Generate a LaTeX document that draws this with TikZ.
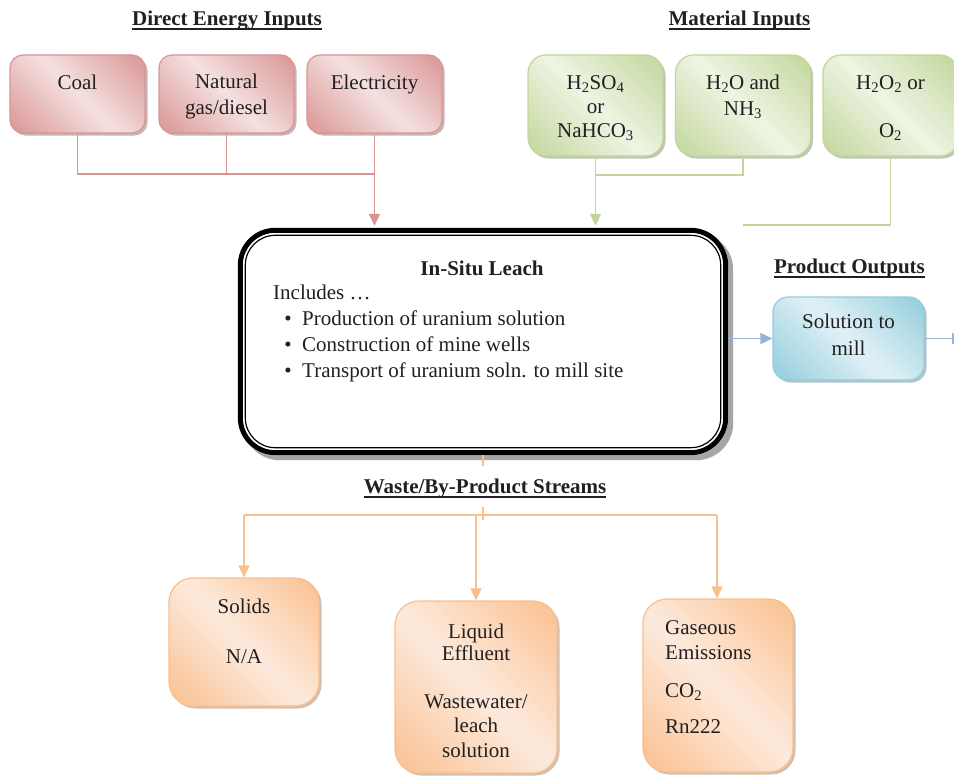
\documentclass[tikz,border=0pt]{standalone}
\usepackage{fontspec}
\setmainfont{Liberation Serif}
\usetikzlibrary{arrows.meta}

\definecolor{txtc}{HTML}{231F20}
\definecolor{redD}{HTML}{D99594}
\definecolor{redL}{HTML}{F4E0E0}
\definecolor{grnD}{HTML}{C2D69B}
\definecolor{grnL}{HTML}{EEF4E3}
\definecolor{bluD}{HTML}{92CDDC}
\definecolor{bluL}{HTML}{E0F1F6}
\definecolor{bluA}{HTML}{95B3D7}
\definecolor{orgD}{HTML}{FABF8F}
\definecolor{orgL}{HTML}{FDEADC}

\newcommand\bodyfont{\fontsize{21}{26}\selectfont}
% underlined heading text with a firm rule
\newsavebox\ulinebox
\newcommand\ulinetext[1]{\sbox\ulinebox{#1}\rlap{\usebox\ulinebox}\rule[-4.6pt]{\wd\ulinebox}{1.7pt}}

% rounded box with a diagonal two-tone gradient and a soft shadow
% #1 name, #2 cx, #3 cy, #4 width, #5 height, #6 corner radius, #7 palette
\newcommand\gradbox[7]{%
  \fill[#7D!60!black, opacity=.45, rounded corners=#6]
    (#2-#4/2+2.5,#3-#5/2+2.5) rectangle (#2+#4/2+2.5,#3+#5/2+2.5);
  \begin{scope}
    \clip[rounded corners=#6] (#2-#4/2,#3-#5/2) rectangle (#2+#4/2,#3+#5/2);
    \pgfmathsetmacro\gS{(#4+#5)/2}
    \pgfmathsetmacro\gT{#4+#5}
    \foreach \k in {0,...,39}{
      \pgfmathsetmacro\sa{-\gS+2*\gS*\k/40}
      \pgfmathsetmacro\sb{\sa+2*\gS/40+1}
      \pgfmathtruncatemacro\pc{100*abs((\k+0.5)/20-1)}
      \fill[#7D!\pc!#7L]
        ({#2+(\sa-\gT)/2},{#3+(-\gT-\sa)/2}) --
        ({#2+(\sb-\gT)/2},{#3+(-\gT-\sb)/2}) --
        ({#2+(\sb+\gT)/2},{#3+(\gT-\sb)/2}) --
        ({#2+(\sa+\gT)/2},{#3+(\gT-\sa)/2}) -- cycle;
    }
  \end{scope}
  \node[draw=#7D, line width=1.2pt, rounded corners=#6, inner sep=0pt,
    minimum width=#4pt, minimum height=#5pt] (#1) at (#2,#3) {};
}

\begin{document}
\begin{tikzpicture}[x=1pt,y=-1pt,
  txt/.style={inner sep=0pt, text height=12.5pt, text depth=0pt,
    font=\bodyfont, text=txtc},
  ttl/.style={txt, font=\bodyfont\bfseries},
  conn/.style={draw=#1, line width=1.8pt},
  arr/.style={-{Triangle[length=12pt,width=11pt]}},
]
\useasboundingbox (0,0) rectangle (954,776);

% ---------- section titles ----------
\node[ttl] (t-energy) at (227,19) {\ulinetext{Direct Energy Inputs}};
\node[ttl] (t-mat) at (739.5,19) {\ulinetext{Material Inputs}};
\node[ttl] (t-prod) at (849.5,267) {\ulinetext{Product Outputs}};
\node[ttl] (t-waste) at (485,487) {\ulinetext{Waste/By-Product Streams}};

% ---------- energy inputs ----------
\gradbox{coal}{77.5}{94}{135}{78}{13pt}{red}
\gradbox{nat}{226.5}{94}{135}{78}{13pt}{red}
\gradbox{elec}{374.5}{94}{135}{78}{13pt}{red}
\node[txt] (coal-t) at (77.5,83) {Coal};
\node[txt] (nat-t1) at (226.5,82) {Natural};
\node[txt] (nat-t2) at (226.5,108) {gas/diesel};
\node[txt] (elec-t) at (374.5,83) {Electricity};

% ---------- material inputs ----------
\gradbox{acid}{595.5}{105.5}{135}{101}{18pt}{grn}
\gradbox{water}{743}{105.5}{135}{101}{18pt}{grn}
\gradbox{oxid}{890.5}{105.5}{135}{101}{18pt}{grn}
\node[txt] (acid-t1) at (595.5,83) {H\textsubscript{2}SO\textsubscript{4}};
\node[txt] (acid-t2) at (595.5,107) {or};
\node[txt] (acid-t3) at (595.5,131.5) {NaHCO\textsubscript{3}};
\node[txt] (water-t1) at (743,83) {H\textsubscript{2}O and};
\node[txt] (water-t2) at (743,109) {NH\textsubscript{3}};
\node[txt] (oxid-t1) at (890.5,83) {H\textsubscript{2}O\textsubscript{2} or};
\node[txt] (oxid-t2) at (890.5,131) {O\textsubscript{2}};

% ---------- central process ----------
\node[minimum width=490pt, minimum height=227pt, inner sep=0pt] (main) at (483,341.5) {};
\fill[black!35, rounded corners=37pt]
  ([shift={(5,5)}]main.north west) rectangle ([shift={(5,5)}]main.south east);
\fill[white, rounded corners=37pt] (main.north west) rectangle (main.south east);
\draw[line width=5pt, rounded corners=35pt]
  ([shift={(2.5,2.5)}]main.north west) rectangle ([shift={(-2.5,-2.5)}]main.south east);
\draw[line width=1.2pt, rounded corners=30pt]
  ([shift={(7.5,7.5)}]main.north west) rectangle ([shift={(-7.5,-7.5)}]main.south east);
\node[ttl] (main-t) at (482,269) {In-Situ Leach};
\node[txt, anchor=west] (main-inc) at (273,293) {Includes \ldots};
\node[txt] (bul1) at (288,319) {\textbullet};
\node[txt] (bul2) at (288,345) {\textbullet};
\node[txt] (bul3) at (288,371) {\textbullet};
\node[txt, anchor=west] (item1) at (302,319) {Production of uranium solution};
\node[txt, anchor=west] (item2) at (302,345) {Construction of mine wells};
\node[txt, anchor=west] (item3) at (302,371) {Transport of uranium soln. to mill site};

% ---------- product output ----------
\gradbox{sol}{848.5}{338.5}{151}{83}{15pt}{blu}
\node[txt] (sol-t1) at (848.5,322) {Solution to};
\node[txt] (sol-t2) at (848.5,349) {mill};

% ---------- waste streams ----------
\gradbox{solids}{244}{642}{150}{128}{24pt}{org}
\gradbox{liquid}{476}{687}{162}{172}{24pt}{org}
\gradbox{gas}{718}{685.5}{150}{173}{24pt}{org}
\node[txt] (solids-t1) at (244,607) {Solids};
\node[txt] (solids-t2) at (244,657) {N/A};
\node[txt] (liquid-t1) at (476,632) {Liquid};
\node[txt] (liquid-t2) at (476,654) {Effluent};
\node[txt] (liquid-t3) at (476,702) {Wastewater/};
\node[txt] (liquid-t4) at (476,726) {leach};
\node[txt] (liquid-t5) at (476,751) {solution};
\node[txt, anchor=west] (gas-t1) at (665,628) {Gaseous};
\node[txt, anchor=west] (gas-t2) at (665,653) {Emissions};
\node[txt, anchor=west] (gas-t3) at (665,691) {CO\textsubscript{2}};
\node[txt, anchor=west] (gas-t4) at (665,727) {Rn222};

% ---------- connectors: energy ----------
\coordinate (ej) at (374.5,174);
\draw[conn=redD] (coal.south) |- (ej);
\draw[conn=redD] (nat.south) -- (nat.south |- ej);
\draw[conn=redD, arr, shorten >=2pt] (elec.south) -- (elec.south |- main.north);

% ---------- connectors: materials ----------
\coordinate (gj) at (595.5,175);
\coordinate (gend) at (743,225);
\draw[conn=grnD] (water.south) |- (gj);
\draw[conn=grnD, arr, shorten >=2pt] (acid.south) -- (acid.south |- main.north);
\draw[conn=grnD] (oxid.south) |- (gend);

% ---------- connectors: product ----------
\coordinate (solout) at (964,338.5);
\draw[conn=bluA, arr] (main.east |- sol.west) -- (sol.west);
\draw[conn=bluA, arr] (sol.east) -- (solout);

% ---------- connectors: waste ----------
\coordinate (wstub) at (483,466);
\coordinate (wk1) at (483,507);
\coordinate (wk2) at (483,520);
\coordinate (wl) at (244,515);
\coordinate (wm) at (476,515);
\coordinate (wr) at (717,515);
\draw[conn=orgD] (main.south) -- (wstub);
\draw[conn=orgD] (wk1) -- (wk2);
\draw[conn=orgD] (wl) -- (wr);
\draw[conn=orgD, arr] (wl) -- (wl |- solids.north);
\draw[conn=orgD, arr] (wm) -- (wm |- liquid.north);
\draw[conn=orgD, arr] (wr) -- (wr |- gas.north);
\end{tikzpicture}
\end{document}
